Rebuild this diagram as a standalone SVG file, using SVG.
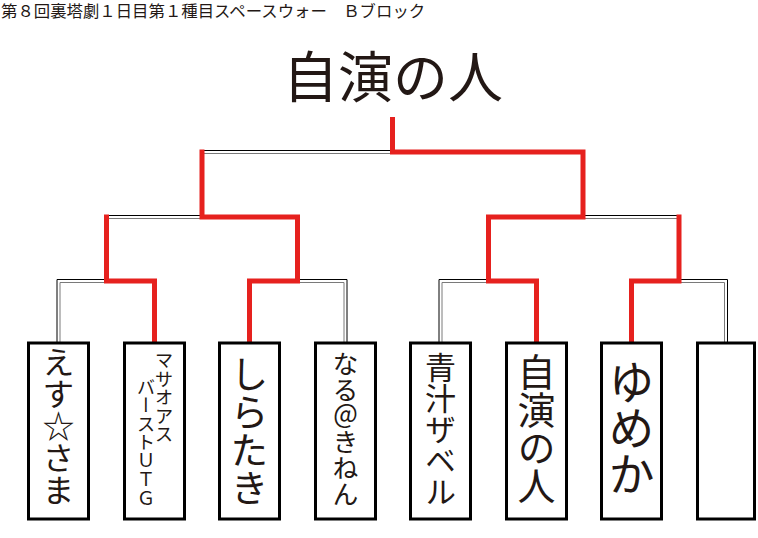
<svg xmlns="http://www.w3.org/2000/svg" width="758" height="538" viewBox="0 0 758 538">
<style>
.bg{fill:#fff}
.o{fill:none;stroke:#000;stroke-width:1}
.i{fill:none;stroke:#7a7a7a;stroke-width:1}
.r{fill:none;stroke:#e6211e;stroke-width:5;stroke-linejoin:miter;stroke-linecap:butt}
.box{fill:#fff;stroke:#000;stroke-width:3}
.t{font-family:"Noto Sans CJK JP","Noto Sans CJK SC",sans-serif;fill:#231815}
.v{writing-mode:vertical-rl;text-orientation:upright}
</style>
<rect class="bg" x="0" y="0" width="758" height="538"/>
<text id="header" class="t" x="1" y="17" font-size="16.4">第８回裏塔劇１日目第１種目スペースウォー　Ｂブロック</text>
<g id="title"><text class="t" x="283" y="96.5" font-size="55">自演の人</text></g>
<g id="connectors">
<path class="o" d="M57 343V279.5H156V343"/>
<path class="i" d="M60 343V282.5H153V343"/>
<path class="o" d="M248 343V279.5H347V343"/>
<path class="i" d="M251 343V282.5H344V343"/>
<path class="o" d="M439 343V279.5H538V343"/>
<path class="i" d="M442 343V282.5H535V343"/>
<path class="o" d="M630 343V279.5H727.5V343"/>
<path class="i" d="M633 343V282.5H724.5V343"/>
<path class="o" d="M105 279.5V215.5H299V279.5"/>
<path class="i" d="M108 279.5V218.5H296V279.5"/>
<path class="o" d="M487 279.5V215.5H680.5V279.5"/>
<path class="i" d="M490 279.5V218.5H677.5V279.5"/>
<path class="o" d="M200.5 215.5V150.5H584.5V215.5"/>
<path class="i" d="M203.5 215.5V153.5H581.5V215.5"/>
<path class="r" d="M392.5 117V152H583V217H488.5V281H536.5V342"/>
<path class="r" d="M202 149.5V217H297.5V281H249.5V342"/>
<path class="r" d="M106.5 214.5V281H154.5V342"/>
<path class="r" d="M679 214.5V281H631.5V342"/>
</g>
<g id="n1"><rect class="box" x="28.5" y="343" width="60" height="176"/><text class="t v" x="58.5" y="346" font-size="32">えす☆さま</text></g>
<g id="n2"><rect class="box" x="124.5" y="343" width="60" height="176"/><text class="t v" x="164" y="351" font-size="18.5">マサオアス</text><text class="t v" x="146" y="377.5" font-size="18.5">バーストＵＴＧ</text></g>
<g id="n3"><rect class="box" x="219.5" y="343" width="60" height="176"/><text class="t v" x="249.5" y="355" font-size="38">しらたき</text></g>
<g id="n4"><rect class="box" x="315.5" y="343" width="60" height="176"/><text class="t v" x="345.5" y="351" font-size="26">なる＠きねん</text></g>
<g id="n5"><rect class="box" x="410.5" y="343" width="60" height="176"/><text class="t v" x="440.5" y="351.5" font-size="31">青汁ザベル</text></g>
<g id="n6"><rect class="box" x="506.5" y="343" width="60" height="176"/><text class="t v" x="536.5" y="353" font-size="38">自演の人</text></g>
<g id="n7"><rect class="box" x="601.5" y="343" width="60" height="176"/><text class="t v" x="631.5" y="359" font-size="46">ゆめか</text></g>
<g id="n8"><rect class="box" x="697.5" y="343" width="57" height="176"/></g>
</svg>
